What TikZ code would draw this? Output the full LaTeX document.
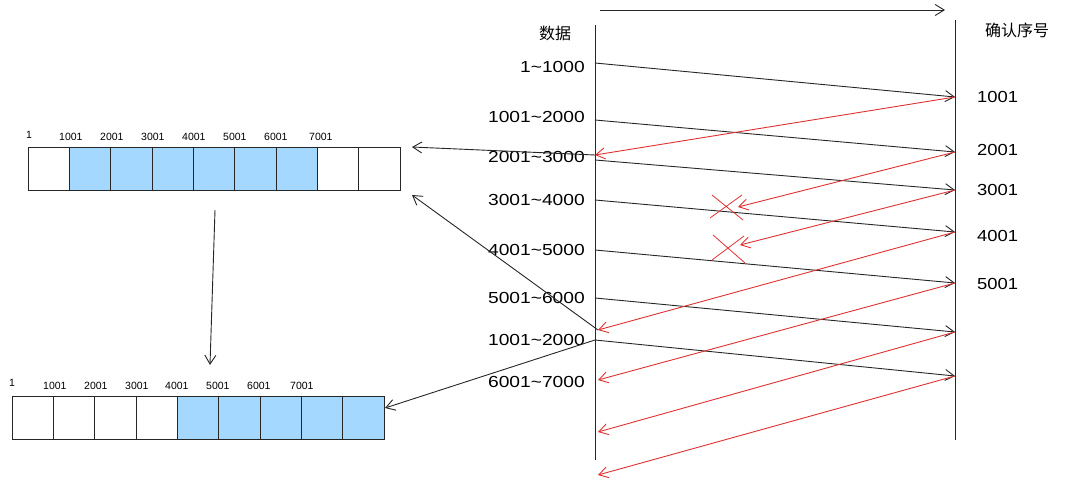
\documentclass[tikz,border=0pt]{standalone}
\usepackage{fontspec}
\setmainfont{Liberation Sans}
\newfontfamily\cjk{Noto Sans CJK SC}
\usetikzlibrary{arrows.meta}
\definecolor{cellblue}{HTML}{A5D8FF}
\definecolor{ackred}{HTML}{E03131}
\begin{document}
\begin{tikzpicture}[x=1pt,y=-1pt,
  data/.style={draw=black!85,line width=0.9pt,-{Straight Barb[length=9pt,width=11pt]}},
  ack/.style={draw=ackred,line width=0.9pt,-{Straight Barb[length=9pt,width=11pt]}},
  lbl/.style={font=\fontsize{16}{18}\selectfont,anchor=east,inner sep=0pt,xscale=1.2},
  albl/.style={font=\fontsize{16}{18}\selectfont,anchor=west,inner sep=0pt,xscale=1.15},
  cell/.style={draw=black!85,line width=0.9pt,minimum width=41.33pt,minimum height=43pt,inner sep=0pt},
  num/.style={font=\fontsize{10.5}{11}\selectfont,anchor=south west,inner sep=0pt}]
\useasboundingbox (0,0) rectangle (1068,485);
% timelines
\coordinate (L0) at (595,25); \coordinate (L1) at (595,460);
\coordinate (R0) at (955,20); \coordinate (R1) at (955,440);
\draw[black!85,line width=0.9pt] (L0)--(L1);
\draw[black!85,line width=0.9pt] (R0)--(R1);
\coordinate (T0) at (600,10); \coordinate (T1) at (945,10);
\draw[data] (T0)--(T1);
\node[font=\cjk\fontsize{16}{18}\selectfont] (hd) at (555,33) {数据};
\node[font=\cjk\fontsize{16}{18}\selectfont] (ha) at (1017,30) {确认序号};
% data labels
\node[lbl] (d1) at (585,67) {1\textasciitilde1000};
\node[lbl] (d2) at (585,117) {1001\textasciitilde2000};
\node[lbl] (d3) at (585,157) {2001\textasciitilde3000};
\node[lbl] (d4) at (585,200) {3001\textasciitilde4000};
\node[lbl] (d5) at (585,250) {4001\textasciitilde5000};
\node[lbl] (d6) at (585,298) {5001\textasciitilde6000};
\node[lbl] (d7) at (585,340) {1001\textasciitilde2000};
\node[lbl] (d8) at (585,382) {6001\textasciitilde7000};
\node[albl] (a1) at (977,97) {1001};
\node[albl] (a2) at (977,150) {2001};
\node[albl] (a3) at (977,190) {3001};
\node[albl] (a4) at (977,236) {4001};
\node[albl] (a5) at (977,284) {5001};
% points
\foreach \n/\x/\y in {s1/595/63,s2/595/120,s3/595/160,s4/595/200,s5/595/250,s6/595/298,s7/595/340,
  e1/955/97,e2/955/152,e3/955/190,e4/955/232,e5/955/283,e6/955/332,e7/955/376,
  r1/595/155,r2/738/207,r3/740/245,r4/598/330,r5/598/380,r6/598/432,r7/598/475}
  \coordinate (\n) at (\x,\y);
\draw[data] (s1)--(e1); \draw[data] (s2)--(e2); \draw[data] (s3)--(e3);
\draw[data] (s4)--(e4); \draw[data] (s5)--(e5); \draw[data] (s6)--(e6); \draw[data] (s7)--(e7);
\draw[ack] (e1)--(r1); \draw[ack] (e2)--(r2); \draw[ack] (e3)--(r3);
\draw[ack] (e4)--(r4); \draw[ack] (e5)--(r5); \draw[ack] (e6)--(r6); \draw[ack] (e7)--(r7);
% crosses
\draw[ackred,line width=0.8pt] (712,195)--(743,220) (742,195)--(710,218);
\draw[ackred,line width=0.8pt] (713,235)--(745,263) (744,236)--(712,260);
% top buffer
\foreach \i in {0,...,8}{
  \pgfmathsetmacro\cx{28+41.33*\i+20.67}
  \ifnum\i>0 \ifnum\i<7 \node[cell,fill=cellblue] (t\i) at (\cx,168.5) {};\else\node[cell] (t\i) at (\cx,168.5) {};\fi
  \else \node[cell] (t\i) at (\cx,168.5) {};\fi}
\node[num] (tn0) at (26,139) {1};
\foreach \l/\x in {1001/59,2001/100,3001/141,4001/182,5001/223,6001/264,7001/309}
  \node[num] (tn\l) at (\x,141) {\l};
% bottom buffer
\foreach \i in {0,...,8}{
  \pgfmathsetmacro\cx{12+41.33*\i+20.67}
  \ifnum\i>3 \node[cell,fill=cellblue] (b\i) at (\cx,417.5) {};\else\node[cell] (b\i) at (\cx,417.5) {};\fi}
\node[num] (bn0) at (9,387) {1};
\foreach \l/\x in {1001/43,2001/84,3001/125,4001/165,5001/206,6001/247,7001/290}
  \node[num] (bn\l) at (\x,390) {\l};
% connectors to buffers
\coordinate (p1) at (412,147); \coordinate (p2) at (412,195); \coordinate (p3) at (385,408);
\coordinate (m1) at (598,330);
\draw[data] (r1)--(p1);
\draw[data] (m1)--(p2);
\draw[data] (s7)--(p3);
\coordinate (v0) at (215,210); \coordinate (v1) at (210,365);
\draw[data] (v0)--(v1);
\end{tikzpicture}
\end{document}
